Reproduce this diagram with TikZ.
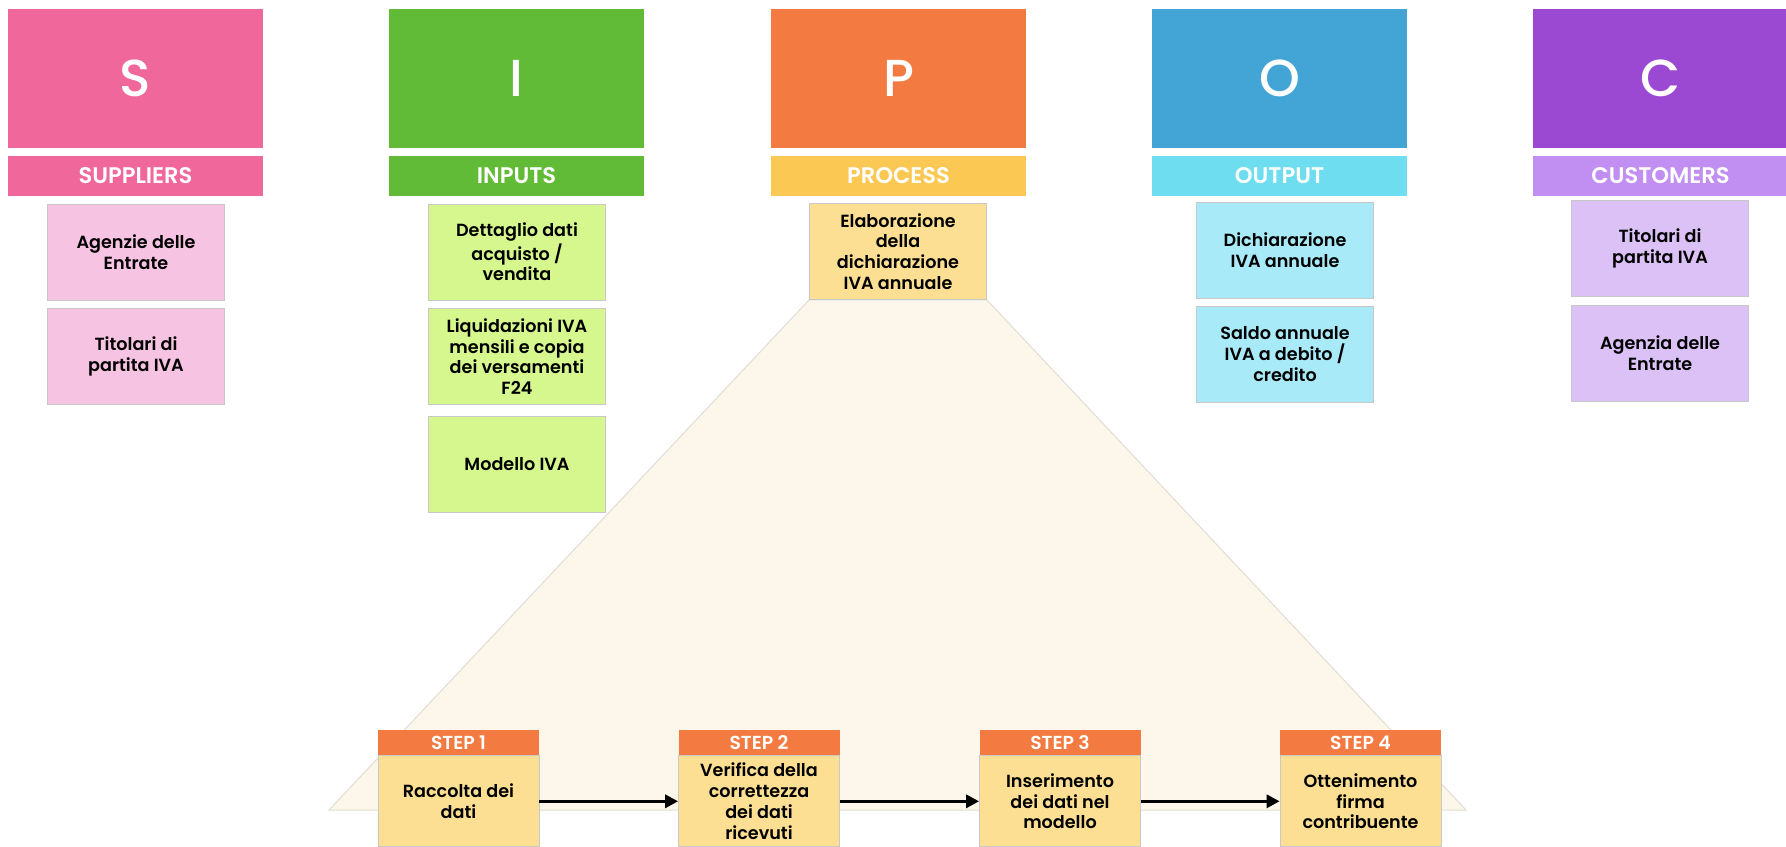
\documentclass[tikz,border=0pt]{standalone}
\usepackage{fontspec}
\setmainfont{Poppins}
\newfontfamily\medfont{Poppins Medium}
\newfontfamily\semifont{Poppins SemiBold}
\usetikzlibrary{arrows.meta}

% column palettes
\definecolor{sDark}{HTML}{F0679C}
\definecolor{sLight}{HTML}{F6C3E3}
\definecolor{iDark}{HTML}{62BB37}
\definecolor{iLight}{HTML}{D5F78E}
\definecolor{pDark}{HTML}{F37A41}
\definecolor{pBar}{HTML}{FBC853}
\definecolor{pLight}{HTML}{FCDF92}
\definecolor{oDark}{HTML}{42A5D5}
\definecolor{oBar}{HTML}{6EDDEF}
\definecolor{oLight}{HTML}{A9EAF9}
\definecolor{cDark}{HTML}{9B48D3}
\definecolor{cBar}{HTML}{C18EF1}
\definecolor{cLight}{HTML}{DBC1F5}
\definecolor{zoomFill}{HTML}{FDF6EA}
\definecolor{edgeGray}{HTML}{C8C8C8}
\definecolor{wedgeEdge}{HTML}{E2DDD4}

\tikzset{
  letterbox/.style={rectangle, minimum width=127.5pt, minimum height=69.5pt,
    inner sep=0pt, text=white, font=\medfont\fontsize{26}{30}\selectfont},
  barbox/.style={rectangle, minimum width=127.5pt, minimum height=20pt,
    inner sep=0pt, text=white, font=\semifont\fontsize{11.3}{13}\selectfont},
  itembox/.style={rectangle, draw=edgeGray, line width=0.4pt,
    minimum width=88.5pt, minimum height=48pt, inner sep=0pt, align=center,
    font=\semifont\fontsize{8.8}{10.4}\selectfont},
  stephead/.style={rectangle, fill=pDark, minimum width=80.5pt, minimum height=12.5pt,
    inner sep=0pt, text=white, font=\semifont\fontsize{9.4}{10}\selectfont},
  stepbody/.style={rectangle, fill=pLight, draw=edgeGray, line width=0.4pt,
    minimum width=80.5pt, minimum height=45.5pt, inner sep=0pt, align=center,
    font=\semifont\fontsize{8.8}{10.4}\selectfont},
  flow/.style={line width=1.65pt, -{Triangle[length=6.5pt,width=6.5pt]}}
}

\begin{document}
\begin{tikzpicture}[x=0.5pt,y=-0.5pt]
\useasboundingbox (0,0) rectangle (1786,846);

% ---- SIPOC headers ----
\node[letterbox, fill=sDark] (hS) at (135.5,78.5) {S};
\node[letterbox, fill=iDark] (hI) at (516.5,78.5) {I};
\node[letterbox, fill=pDark] (hP) at (898.5,78.5) {P};
\node[letterbox, fill=oDark] (hO) at (1279.5,78.5) {O};
\node[letterbox, fill=cDark] (hC) at (1660.5,78.5) {C};

\node[barbox, fill=sDark] (bS) at (135.5,176) {SUPPLIERS};
\node[barbox, fill=iDark] (bI) at (516.5,176) {INPUTS};
\node[barbox, fill=pBar] (bP) at (898.5,176) {PROCESS};
\node[barbox, fill=oBar] (bO) at (1279.5,176) {OUTPUT};
\node[barbox, fill=cBar] (bC) at (1660.5,176) {CUSTOMERS};

% ---- zoom-out wedge below the process box ----
\coordinate (zl) at (329,810);
\coordinate (zr) at (1466,810);
\node[itembox, fill=pLight] (p1) at (898,251.5) {};
\filldraw[fill=zoomFill, draw=wedgeEdge, line width=0.5pt]
  (p1.south west) -- (p1.south east) -- (zr) -- (zl) -- cycle;

% ---- column items ----
\node[itembox, fill=sLight] (s1) at (136,252) {Agenzie delle\\Entrate};
\node[itembox, fill=sLight] (s2) at (136,356.5) {Titolari di\\partita IVA};

\node[itembox, fill=iLight] (i1) at (517,252) {Dettaglio dati\\acquisto /\\vendita};
\node[itembox, fill=iLight] (i2) at (517,356.5) {Liquidazioni IVA\\mensili e copia\\dei versamenti\\F24};
\node[itembox, fill=iLight] (i3) at (517,464.5) {Modello IVA};

\node[itembox, fill=pLight] (p1) at (898,251.5) {Elaborazione\\della\\dichiarazione\\IVA annuale};

\node[itembox, fill=oLight] (o1) at (1285,250) {Dichiarazione\\IVA annuale};
\node[itembox, fill=oLight] (o2) at (1285,354) {Saldo annuale\\IVA a debito /\\credito};

\node[itembox, fill=cLight] (c1) at (1660,248.5) {Titolari di\\partita IVA};
\node[itembox, fill=cLight] (c2) at (1660,353.5) {Agenzia delle\\Entrate};

% ---- process steps ----
\node[stephead] (t1) at (458.5,742.5) {STEP 1};
\node[stephead] (t2) at (759,742.5) {STEP 2};
\node[stephead] (t3) at (1060,742.5) {STEP 3};
\node[stephead] (t4) at (1360.5,742.5) {STEP 4};

\node[stepbody, anchor=north] (k1) at (t1.south) {Raccolta dei\\dati};
\node[stepbody, anchor=north] (k2) at (t2.south) {Verifica della\\correttezza\\dei dati\\ricevuti};
\node[stepbody, anchor=north] (k3) at (t3.south) {Inserimento\\dei dati nel\\modello};
\node[stepbody, anchor=north] (k4) at (t4.south) {Ottenimento\\firma\\contribuente};

\draw[flow] (k1.east) -- (k2.west);
\draw[flow] (k2.east) -- (k3.west);
\draw[flow] (k3.east) -- (k4.west);
\end{tikzpicture}
\end{document}
